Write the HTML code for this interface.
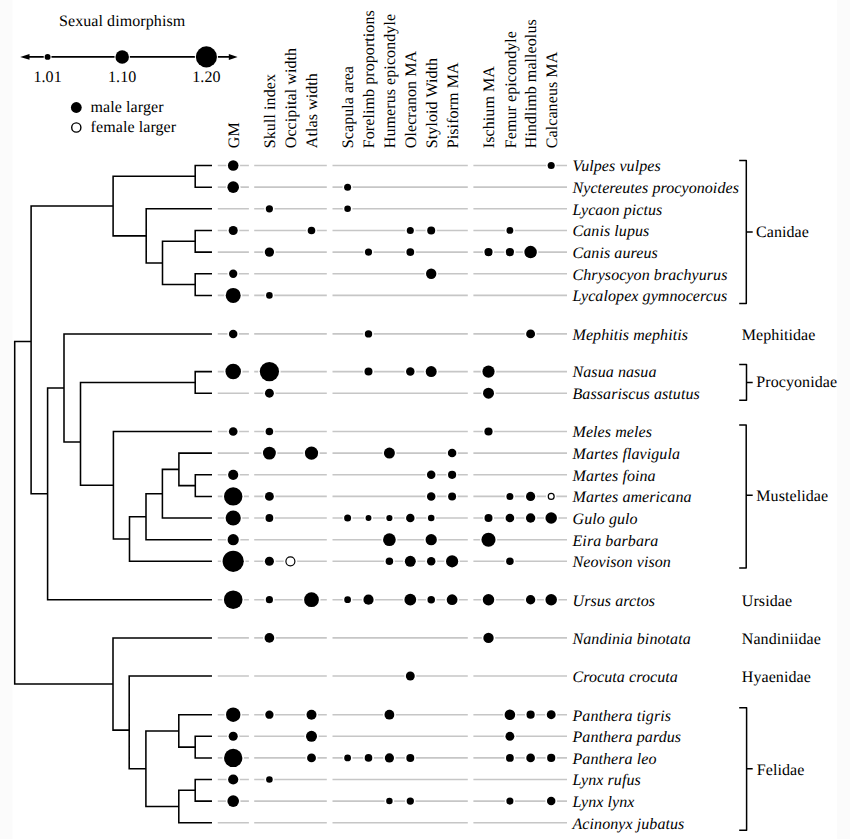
<!DOCTYPE html>
<html><head><meta charset="utf-8"><style>
html,body{margin:0;padding:0;background:#fff;}
body{width:850px;height:839px;overflow:hidden;}
svg{display:block;}
text{font-family:"Liberation Serif",serif;font-size:16px;fill:#000;letter-spacing:0.08px;text-rendering:geometricPrecision;}
.i{font-style:italic;}
</style></head><body>
<svg width="850" height="839" viewBox="0 0 850 839">
<rect x="0" y="0" width="850" height="839" fill="#fff"/>
<rect x="0" y="0" width="12.4" height="839" fill="#fbfbfb"/>
<rect x="837" y="0" width="13" height="839" fill="#fbfbfb"/>
<text x="59" y="26">Sexual dimorphism</text>
<line x1="28" y1="56.9" x2="229" y2="56.9" stroke="#000" stroke-width="1.7"/>
<path d="M20.2 56.9 L29.5 54 L29.5 59.8 Z" fill="#000"/>
<path d="M237.6 57 L228.8 54.1 L228.8 59.9 Z" fill="#000"/>
<circle cx="47.6" cy="56.9" r="3.95" fill="#fff"/><circle cx="47.6" cy="56.9" r="2.95" fill="#000"/>
<circle cx="122.2" cy="56.9" r="7.75" fill="#fff"/><circle cx="122.2" cy="56.9" r="6.75" fill="#000"/>
<circle cx="206.4" cy="56.9" r="11.55" fill="#fff"/><circle cx="206.4" cy="56.9" r="10.55" fill="#000"/>
<text x="47.6" y="82" text-anchor="middle">1.01</text><text x="122.2" y="82" text-anchor="middle">1.10</text><text x="206.4" y="82" text-anchor="middle">1.20</text>
<circle cx="76.3" cy="107.5" r="5.4" fill="#000"/>
<circle cx="76.3" cy="127.5" r="4.6" fill="#fff" stroke="#000" stroke-width="1.4"/>
<text x="90.6" y="112.0">male larger</text>
<text x="90.6" y="132.0">female larger</text>
<text transform="translate(238.8,148.2) rotate(-90)">GM</text>
<text transform="translate(275.0,148.2) rotate(-90)">Skull index</text>
<text transform="translate(296.0,148.2) rotate(-90)">Occipital width</text>
<text transform="translate(317.1,148.2) rotate(-90)">Atlas width</text>
<text transform="translate(353.2,148.2) rotate(-90)">Scapula area</text>
<text transform="translate(374.1,148.2) rotate(-90)">Forelimb proportions</text>
<text transform="translate(395.0,148.2) rotate(-90)">Humerus epicondyle</text>
<text transform="translate(415.9,148.2) rotate(-90)">Olecranon MA</text>
<text transform="translate(436.8,148.2) rotate(-90)">Styloid Width</text>
<text transform="translate(457.7,148.2) rotate(-90)">Pisiform MA</text>
<text transform="translate(494.1,148.2) rotate(-90)">Ischium MA</text>
<text transform="translate(515.5,148.2) rotate(-90)">Femur epicondyle</text>
<text transform="translate(536.2,148.2) rotate(-90)">Hindlimb malleolus</text>
<text transform="translate(556.8,148.2) rotate(-90)">Calcaneus MA</text>
<path d="M195.2 165.50V187.15 M195.2 230.45V252.10 M195.2 273.75V295.40 M162.5 241.27V284.57 M146.2 208.80V262.92 M113.1 176.32V235.86 M195.2 371.60V393.20 M195.3 474.80V496.40 M178.9 453.10V485.60 M162.4 469.35V518.00 M146.0 493.68V539.70 M129.5 516.69V561.30 M113.4 431.50V538.99 M80.5 382.40V485.25 M64.0 333.90V441.90 M47.6 387.90V599.70 M31.1 206.09V493.80 M195.2 736.30V757.90 M178.8 714.70V747.10 M195.2 779.50V801.10 M178.8 790.30V822.70 M145.9 730.90V806.50 M129.2 676.00V768.70 M113.0 637.90V730.10 M14.7 341.50V684.00 M195.2 165.50H211.2 M195.2 187.15H211.2 M146.2 208.80H211.2 M195.2 230.45H211.2 M195.2 252.10H211.2 M195.2 273.75H211.2 M195.2 295.40H211.2 M64.0 333.90H211.2 M195.2 371.60H211.2 M195.2 393.20H211.2 M113.4 431.50H211.2 M178.9 453.10H211.2 M195.3 474.80H211.2 M195.3 496.40H211.2 M162.4 518.00H211.2 M146.0 539.70H211.2 M129.5 561.30H211.2 M47.6 599.70H211.2 M113.0 637.90H211.2 M129.2 676.00H211.2 M178.8 714.70H211.2 M195.2 736.30H211.2 M195.2 757.90H211.2 M195.2 779.50H211.2 M195.2 801.10H211.2 M178.8 822.70H211.2 M113.1 176.32H195.2 M113.1 235.86H146.2 M162.5 241.27H195.2 M162.5 284.57H195.2 M146.2 262.92H162.5 M31.1 206.09H113.1 M31.1 493.80H47.6 M14.7 341.50H31.1 M47.6 387.90H64.0 M64.0 441.90H80.5 M80.5 382.40H195.2 M80.5 485.25H113.4 M113.4 538.99H129.5 M129.5 516.69H146.0 M146.0 493.68H162.4 M162.4 469.35H178.9 M178.9 485.60H195.3 M14.7 684.00H113.0 M113.0 730.10H129.2 M129.2 768.70H145.9 M145.9 730.90H178.8 M145.9 806.50H178.8 M178.8 747.10H195.2 M178.8 790.30H195.2" stroke="#000" stroke-width="1.55" fill="none" stroke-linecap="square" stroke-linecap="butt"/>
<path d="M217.8 165.50H248.9 M254.2 165.50H326.8 M332.5 165.50H467.8 M473.4 165.50H567.0 M217.8 187.15H248.9 M254.2 187.15H326.8 M332.5 187.15H467.8 M473.4 187.15H567.0 M217.8 208.80H248.9 M254.2 208.80H326.8 M332.5 208.80H467.8 M473.4 208.80H567.0 M217.8 230.45H248.9 M254.2 230.45H326.8 M332.5 230.45H467.8 M473.4 230.45H567.0 M217.8 252.10H248.9 M254.2 252.10H326.8 M332.5 252.10H467.8 M473.4 252.10H567.0 M217.8 273.75H248.9 M254.2 273.75H326.8 M332.5 273.75H467.8 M473.4 273.75H567.0 M217.8 295.40H248.9 M254.2 295.40H326.8 M332.5 295.40H467.8 M473.4 295.40H567.0 M217.8 333.90H248.9 M254.2 333.90H326.8 M332.5 333.90H467.8 M473.4 333.90H567.0 M217.8 371.60H248.9 M254.2 371.60H326.8 M332.5 371.60H467.8 M473.4 371.60H567.0 M217.8 393.20H248.9 M254.2 393.20H326.8 M332.5 393.20H467.8 M473.4 393.20H567.0 M217.8 431.50H248.9 M254.2 431.50H326.8 M332.5 431.50H467.8 M473.4 431.50H567.0 M217.8 453.10H248.9 M254.2 453.10H326.8 M332.5 453.10H467.8 M473.4 453.10H567.0 M217.8 474.80H248.9 M254.2 474.80H326.8 M332.5 474.80H467.8 M473.4 474.80H567.0 M217.8 496.40H248.9 M254.2 496.40H326.8 M332.5 496.40H467.8 M473.4 496.40H567.0 M217.8 518.00H248.9 M254.2 518.00H326.8 M332.5 518.00H467.8 M473.4 518.00H567.0 M217.8 539.70H248.9 M254.2 539.70H326.8 M332.5 539.70H467.8 M473.4 539.70H567.0 M217.8 561.30H248.9 M254.2 561.30H326.8 M332.5 561.30H467.8 M473.4 561.30H567.0 M217.8 599.70H248.9 M254.2 599.70H326.8 M332.5 599.70H467.8 M473.4 599.70H567.0 M217.8 637.90H248.9 M254.2 637.90H326.8 M332.5 637.90H467.8 M473.4 637.90H567.0 M217.8 676.00H248.9 M254.2 676.00H326.8 M332.5 676.00H467.8 M473.4 676.00H567.0 M217.8 714.70H248.9 M254.2 714.70H326.8 M332.5 714.70H467.8 M473.4 714.70H567.0 M217.8 736.30H248.9 M254.2 736.30H326.8 M332.5 736.30H467.8 M473.4 736.30H567.0 M217.8 757.90H248.9 M254.2 757.90H326.8 M332.5 757.90H467.8 M473.4 757.90H567.0 M217.8 779.50H248.9 M254.2 779.50H326.8 M332.5 779.50H467.8 M473.4 779.50H567.0 M217.8 801.10H248.9 M254.2 801.10H326.8 M332.5 801.10H467.8 M473.4 801.10H567.0 M217.8 822.70H248.9 M254.2 822.70H326.8 M332.5 822.70H467.8 M473.4 822.70H567.0" stroke="#c6c6c6" stroke-width="1.6" fill="none"/>
<circle cx="233.2" cy="165.50" r="6.90" fill="#fff"/><circle cx="233.2" cy="165.50" r="5.30" fill="#000"/>
<circle cx="551.2" cy="165.50" r="5.15" fill="#fff"/><circle cx="551.2" cy="165.50" r="3.55" fill="#000"/>
<circle cx="233.2" cy="187.15" r="7.40" fill="#fff"/><circle cx="233.2" cy="187.15" r="5.80" fill="#000"/>
<circle cx="347.6" cy="187.15" r="5.10" fill="#fff"/><circle cx="347.6" cy="187.15" r="3.50" fill="#000"/>
<circle cx="269.4" cy="208.80" r="5.20" fill="#fff"/><circle cx="269.4" cy="208.80" r="3.60" fill="#000"/>
<circle cx="347.6" cy="208.80" r="4.90" fill="#fff"/><circle cx="347.6" cy="208.80" r="3.30" fill="#000"/>
<circle cx="233.2" cy="230.45" r="6.15" fill="#fff"/><circle cx="233.2" cy="230.45" r="4.55" fill="#000"/>
<circle cx="311.5" cy="230.45" r="5.40" fill="#fff"/><circle cx="311.5" cy="230.45" r="3.80" fill="#000"/>
<circle cx="410.3" cy="230.45" r="5.15" fill="#fff"/><circle cx="410.3" cy="230.45" r="3.55" fill="#000"/>
<circle cx="431.2" cy="230.45" r="5.60" fill="#fff"/><circle cx="431.2" cy="230.45" r="4.00" fill="#000"/>
<circle cx="509.9" cy="230.45" r="5.00" fill="#fff"/><circle cx="509.9" cy="230.45" r="3.40" fill="#000"/>
<circle cx="269.4" cy="252.10" r="6.25" fill="#fff"/><circle cx="269.4" cy="252.10" r="4.65" fill="#000"/>
<circle cx="368.5" cy="252.10" r="5.20" fill="#fff"/><circle cx="368.5" cy="252.10" r="3.60" fill="#000"/>
<circle cx="410.3" cy="252.10" r="5.50" fill="#fff"/><circle cx="410.3" cy="252.10" r="3.90" fill="#000"/>
<circle cx="488.5" cy="252.10" r="5.70" fill="#fff"/><circle cx="488.5" cy="252.10" r="4.10" fill="#000"/>
<circle cx="509.9" cy="252.10" r="5.70" fill="#fff"/><circle cx="509.9" cy="252.10" r="4.10" fill="#000"/>
<circle cx="530.6" cy="252.10" r="7.85" fill="#fff"/><circle cx="530.6" cy="252.10" r="6.25" fill="#000"/>
<circle cx="233.2" cy="273.75" r="5.75" fill="#fff"/><circle cx="233.2" cy="273.75" r="4.15" fill="#000"/>
<circle cx="431.2" cy="273.75" r="6.80" fill="#fff"/><circle cx="431.2" cy="273.75" r="5.20" fill="#000"/>
<circle cx="233.2" cy="295.40" r="9.10" fill="#fff"/><circle cx="233.2" cy="295.40" r="7.50" fill="#000"/>
<circle cx="269.4" cy="295.40" r="4.90" fill="#fff"/><circle cx="269.4" cy="295.40" r="3.30" fill="#000"/>
<circle cx="233.2" cy="333.90" r="5.85" fill="#fff"/><circle cx="233.2" cy="333.90" r="4.25" fill="#000"/>
<circle cx="368.5" cy="333.90" r="5.30" fill="#fff"/><circle cx="368.5" cy="333.90" r="3.70" fill="#000"/>
<circle cx="530.6" cy="333.90" r="6.05" fill="#fff"/><circle cx="530.6" cy="333.90" r="4.45" fill="#000"/>
<circle cx="233.2" cy="371.60" r="9.35" fill="#fff"/><circle cx="233.2" cy="371.60" r="7.75" fill="#000"/>
<circle cx="269.4" cy="371.60" r="11.25" fill="#fff"/><circle cx="269.4" cy="371.60" r="9.65" fill="#000"/>
<circle cx="368.5" cy="371.60" r="5.60" fill="#fff"/><circle cx="368.5" cy="371.60" r="4.00" fill="#000"/>
<circle cx="410.3" cy="371.60" r="5.85" fill="#fff"/><circle cx="410.3" cy="371.60" r="4.25" fill="#000"/>
<circle cx="431.2" cy="371.60" r="7.10" fill="#fff"/><circle cx="431.2" cy="371.60" r="5.50" fill="#000"/>
<circle cx="488.5" cy="371.60" r="7.70" fill="#fff"/><circle cx="488.5" cy="371.60" r="6.10" fill="#000"/>
<circle cx="269.4" cy="393.20" r="6.05" fill="#fff"/><circle cx="269.4" cy="393.20" r="4.45" fill="#000"/>
<circle cx="488.5" cy="393.20" r="7.10" fill="#fff"/><circle cx="488.5" cy="393.20" r="5.50" fill="#000"/>
<circle cx="233.2" cy="431.50" r="5.95" fill="#fff"/><circle cx="233.2" cy="431.50" r="4.35" fill="#000"/>
<circle cx="269.4" cy="431.50" r="5.40" fill="#fff"/><circle cx="269.4" cy="431.50" r="3.80" fill="#000"/>
<circle cx="488.5" cy="431.50" r="5.70" fill="#fff"/><circle cx="488.5" cy="431.50" r="4.10" fill="#000"/>
<circle cx="269.4" cy="453.10" r="8.05" fill="#fff"/><circle cx="269.4" cy="453.10" r="6.45" fill="#000"/>
<circle cx="311.5" cy="453.10" r="8.25" fill="#fff"/><circle cx="311.5" cy="453.10" r="6.65" fill="#000"/>
<circle cx="389.4" cy="453.10" r="7.10" fill="#fff"/><circle cx="389.4" cy="453.10" r="5.50" fill="#000"/>
<circle cx="452.1" cy="453.10" r="5.85" fill="#fff"/><circle cx="452.1" cy="453.10" r="4.25" fill="#000"/>
<circle cx="233.2" cy="474.80" r="6.70" fill="#fff"/><circle cx="233.2" cy="474.80" r="5.10" fill="#000"/>
<circle cx="431.2" cy="474.80" r="5.85" fill="#fff"/><circle cx="431.2" cy="474.80" r="4.25" fill="#000"/>
<circle cx="452.1" cy="474.80" r="5.70" fill="#fff"/><circle cx="452.1" cy="474.80" r="4.10" fill="#000"/>
<circle cx="233.2" cy="496.40" r="10.80" fill="#fff"/><circle cx="233.2" cy="496.40" r="9.20" fill="#000"/>
<circle cx="269.4" cy="496.40" r="6.05" fill="#fff"/><circle cx="269.4" cy="496.40" r="4.45" fill="#000"/>
<circle cx="431.2" cy="496.40" r="5.85" fill="#fff"/><circle cx="431.2" cy="496.40" r="4.25" fill="#000"/>
<circle cx="452.1" cy="496.40" r="5.60" fill="#fff"/><circle cx="452.1" cy="496.40" r="4.00" fill="#000"/>
<circle cx="509.9" cy="496.40" r="5.10" fill="#fff"/><circle cx="509.9" cy="496.40" r="3.50" fill="#000"/>
<circle cx="530.6" cy="496.40" r="6.20" fill="#fff"/><circle cx="530.6" cy="496.40" r="4.60" fill="#000"/>
<circle cx="551.2" cy="496.40" r="5.15" fill="#fff"/><circle cx="551.2" cy="496.40" r="2.95" fill="#fff" stroke="#000" stroke-width="1.2"/>
<circle cx="233.2" cy="518.00" r="9.20" fill="#fff"/><circle cx="233.2" cy="518.00" r="7.60" fill="#000"/>
<circle cx="269.4" cy="518.00" r="5.50" fill="#fff"/><circle cx="269.4" cy="518.00" r="3.90" fill="#000"/>
<circle cx="347.6" cy="518.00" r="5.10" fill="#fff"/><circle cx="347.6" cy="518.00" r="3.50" fill="#000"/>
<circle cx="368.5" cy="518.00" r="4.55" fill="#fff"/><circle cx="368.5" cy="518.00" r="2.95" fill="#000"/>
<circle cx="389.4" cy="518.00" r="4.70" fill="#fff"/><circle cx="389.4" cy="518.00" r="3.10" fill="#000"/>
<circle cx="410.3" cy="518.00" r="5.85" fill="#fff"/><circle cx="410.3" cy="518.00" r="4.25" fill="#000"/>
<circle cx="431.2" cy="518.00" r="4.90" fill="#fff"/><circle cx="431.2" cy="518.00" r="3.30" fill="#000"/>
<circle cx="488.5" cy="518.00" r="5.60" fill="#fff"/><circle cx="488.5" cy="518.00" r="4.00" fill="#000"/>
<circle cx="509.9" cy="518.00" r="5.95" fill="#fff"/><circle cx="509.9" cy="518.00" r="4.35" fill="#000"/>
<circle cx="530.6" cy="518.00" r="6.30" fill="#fff"/><circle cx="530.6" cy="518.00" r="4.70" fill="#000"/>
<circle cx="551.2" cy="518.00" r="7.35" fill="#fff"/><circle cx="551.2" cy="518.00" r="5.75" fill="#000"/>
<circle cx="233.2" cy="539.70" r="7.20" fill="#fff"/><circle cx="233.2" cy="539.70" r="5.60" fill="#000"/>
<circle cx="389.4" cy="539.70" r="7.95" fill="#fff"/><circle cx="389.4" cy="539.70" r="6.35" fill="#000"/>
<circle cx="431.2" cy="539.70" r="7.25" fill="#fff"/><circle cx="431.2" cy="539.70" r="5.65" fill="#000"/>
<circle cx="488.5" cy="539.70" r="8.65" fill="#fff"/><circle cx="488.5" cy="539.70" r="7.05" fill="#000"/>
<circle cx="233.2" cy="561.30" r="12.20" fill="#fff"/><circle cx="233.2" cy="561.30" r="10.60" fill="#000"/>
<circle cx="269.4" cy="561.30" r="6.15" fill="#fff"/><circle cx="269.4" cy="561.30" r="4.55" fill="#000"/>
<circle cx="290.4" cy="561.30" r="6.70" fill="#fff"/><circle cx="290.4" cy="561.30" r="4.50" fill="#fff" stroke="#000" stroke-width="1.2"/>
<circle cx="389.4" cy="561.30" r="5.35" fill="#fff"/><circle cx="389.4" cy="561.30" r="3.75" fill="#000"/>
<circle cx="410.3" cy="561.30" r="7.10" fill="#fff"/><circle cx="410.3" cy="561.30" r="5.50" fill="#000"/>
<circle cx="431.2" cy="561.30" r="5.85" fill="#fff"/><circle cx="431.2" cy="561.30" r="4.25" fill="#000"/>
<circle cx="452.1" cy="561.30" r="7.70" fill="#fff"/><circle cx="452.1" cy="561.30" r="6.10" fill="#000"/>
<circle cx="509.9" cy="561.30" r="5.35" fill="#fff"/><circle cx="509.9" cy="561.30" r="3.75" fill="#000"/>
<circle cx="233.2" cy="599.70" r="10.90" fill="#fff"/><circle cx="233.2" cy="599.70" r="9.30" fill="#000"/>
<circle cx="269.4" cy="599.70" r="5.20" fill="#fff"/><circle cx="269.4" cy="599.70" r="3.60" fill="#000"/>
<circle cx="311.5" cy="599.70" r="9.00" fill="#fff"/><circle cx="311.5" cy="599.70" r="7.40" fill="#000"/>
<circle cx="347.6" cy="599.70" r="5.00" fill="#fff"/><circle cx="347.6" cy="599.70" r="3.40" fill="#000"/>
<circle cx="368.5" cy="599.70" r="6.70" fill="#fff"/><circle cx="368.5" cy="599.70" r="5.10" fill="#000"/>
<circle cx="410.3" cy="599.70" r="7.50" fill="#fff"/><circle cx="410.3" cy="599.70" r="5.90" fill="#000"/>
<circle cx="431.2" cy="599.70" r="5.35" fill="#fff"/><circle cx="431.2" cy="599.70" r="3.75" fill="#000"/>
<circle cx="452.1" cy="599.70" r="7.00" fill="#fff"/><circle cx="452.1" cy="599.70" r="5.40" fill="#000"/>
<circle cx="488.5" cy="599.70" r="7.35" fill="#fff"/><circle cx="488.5" cy="599.70" r="5.75" fill="#000"/>
<circle cx="530.6" cy="599.70" r="6.30" fill="#fff"/><circle cx="530.6" cy="599.70" r="4.70" fill="#000"/>
<circle cx="551.2" cy="599.70" r="7.35" fill="#fff"/><circle cx="551.2" cy="599.70" r="5.75" fill="#000"/>
<circle cx="269.4" cy="637.90" r="6.45" fill="#fff"/><circle cx="269.4" cy="637.90" r="4.85" fill="#000"/>
<circle cx="488.5" cy="637.90" r="6.80" fill="#fff"/><circle cx="488.5" cy="637.90" r="5.20" fill="#000"/>
<circle cx="410.3" cy="676.00" r="6.05" fill="#fff"/><circle cx="410.3" cy="676.00" r="4.45" fill="#000"/>
<circle cx="233.2" cy="714.70" r="8.80" fill="#fff"/><circle cx="233.2" cy="714.70" r="7.20" fill="#000"/>
<circle cx="269.4" cy="714.70" r="5.75" fill="#fff"/><circle cx="269.4" cy="714.70" r="4.15" fill="#000"/>
<circle cx="311.5" cy="714.70" r="6.60" fill="#fff"/><circle cx="311.5" cy="714.70" r="5.00" fill="#000"/>
<circle cx="389.4" cy="714.70" r="6.50" fill="#fff"/><circle cx="389.4" cy="714.70" r="4.90" fill="#000"/>
<circle cx="509.9" cy="714.70" r="6.90" fill="#fff"/><circle cx="509.9" cy="714.70" r="5.30" fill="#000"/>
<circle cx="530.6" cy="714.70" r="5.70" fill="#fff"/><circle cx="530.6" cy="714.70" r="4.10" fill="#000"/>
<circle cx="551.2" cy="714.70" r="6.05" fill="#fff"/><circle cx="551.2" cy="714.70" r="4.45" fill="#000"/>
<circle cx="233.2" cy="736.30" r="6.15" fill="#fff"/><circle cx="233.2" cy="736.30" r="4.55" fill="#000"/>
<circle cx="311.5" cy="736.30" r="7.10" fill="#fff"/><circle cx="311.5" cy="736.30" r="5.50" fill="#000"/>
<circle cx="509.9" cy="736.30" r="6.05" fill="#fff"/><circle cx="509.9" cy="736.30" r="4.45" fill="#000"/>
<circle cx="233.2" cy="757.90" r="10.80" fill="#fff"/><circle cx="233.2" cy="757.90" r="9.20" fill="#000"/>
<circle cx="311.5" cy="757.90" r="6.05" fill="#fff"/><circle cx="311.5" cy="757.90" r="4.45" fill="#000"/>
<circle cx="347.6" cy="757.90" r="5.00" fill="#fff"/><circle cx="347.6" cy="757.90" r="3.40" fill="#000"/>
<circle cx="368.5" cy="757.90" r="5.40" fill="#fff"/><circle cx="368.5" cy="757.90" r="3.80" fill="#000"/>
<circle cx="389.4" cy="757.90" r="6.20" fill="#fff"/><circle cx="389.4" cy="757.90" r="4.60" fill="#000"/>
<circle cx="410.3" cy="757.90" r="5.60" fill="#fff"/><circle cx="410.3" cy="757.90" r="4.00" fill="#000"/>
<circle cx="509.9" cy="757.90" r="5.50" fill="#fff"/><circle cx="509.9" cy="757.90" r="3.90" fill="#000"/>
<circle cx="530.6" cy="757.90" r="5.95" fill="#fff"/><circle cx="530.6" cy="757.90" r="4.35" fill="#000"/>
<circle cx="551.2" cy="757.90" r="5.70" fill="#fff"/><circle cx="551.2" cy="757.90" r="4.10" fill="#000"/>
<circle cx="233.2" cy="779.50" r="6.70" fill="#fff"/><circle cx="233.2" cy="779.50" r="5.10" fill="#000"/>
<circle cx="269.4" cy="779.50" r="4.90" fill="#fff"/><circle cx="269.4" cy="779.50" r="3.30" fill="#000"/>
<circle cx="233.2" cy="801.10" r="7.40" fill="#fff"/><circle cx="233.2" cy="801.10" r="5.80" fill="#000"/>
<circle cx="389.4" cy="801.10" r="4.85" fill="#fff"/><circle cx="389.4" cy="801.10" r="3.25" fill="#000"/>
<circle cx="410.3" cy="801.10" r="5.25" fill="#fff"/><circle cx="410.3" cy="801.10" r="3.65" fill="#000"/>
<circle cx="509.9" cy="801.10" r="5.15" fill="#fff"/><circle cx="509.9" cy="801.10" r="3.55" fill="#000"/>
<circle cx="551.2" cy="801.10" r="5.85" fill="#fff"/><circle cx="551.2" cy="801.10" r="4.25" fill="#000"/>
<text class="i" x="572.5" y="171.30">Vulpes vulpes</text>
<text class="i" x="572.5" y="192.95">Nyctereutes procyonoides</text>
<text class="i" x="572.5" y="214.60">Lycaon pictus</text>
<text class="i" x="572.5" y="236.25">Canis lupus</text>
<text class="i" x="572.5" y="257.90">Canis aureus</text>
<text class="i" x="572.5" y="279.55">Chrysocyon brachyurus</text>
<text class="i" x="572.5" y="301.20">Lycalopex gymnocercus</text>
<text class="i" x="572.5" y="339.70">Mephitis mephitis</text>
<text class="i" x="572.5" y="377.40">Nasua nasua</text>
<text class="i" x="572.5" y="399.00">Bassariscus astutus</text>
<text class="i" x="572.5" y="437.30">Meles meles</text>
<text class="i" x="572.5" y="458.90">Martes flavigula</text>
<text class="i" x="572.5" y="480.60">Martes foina</text>
<text class="i" x="572.5" y="502.20">Martes americana</text>
<text class="i" x="572.5" y="523.80">Gulo gulo</text>
<text class="i" x="572.5" y="545.50">Eira barbara</text>
<text class="i" x="572.5" y="567.10">Neovison vison</text>
<text class="i" x="572.5" y="605.50">Ursus arctos</text>
<text class="i" x="572.5" y="643.70">Nandinia binotata</text>
<text class="i" x="572.5" y="681.80">Crocuta crocuta</text>
<text class="i" x="572.5" y="720.50">Panthera tigris</text>
<text class="i" x="572.5" y="742.10">Panthera pardus</text>
<text class="i" x="572.5" y="763.70">Panthera leo</text>
<text class="i" x="572.5" y="785.30">Lynx rufus</text>
<text class="i" x="572.5" y="806.90">Lynx lynx</text>
<text class="i" x="572.5" y="828.50">Acinonyx jubatus</text>
<path d="M739.2 160.4H746.3V303.6H739.2 M746.3 232H752.7" stroke="#000" stroke-width="1.5" fill="none" stroke-linejoin="round"/>
<text x="756" y="237.4">Canidae</text>
<text x="741.8" y="339.6">Mephitidae</text>
<path d="M739.2 364.6H746.5V400.2H739.2 M746.5 382.5H752.7" stroke="#000" stroke-width="1.5" fill="none" stroke-linejoin="round"/>
<text x="756.3" y="386.6">Procyonidae</text>
<path d="M739.2 424.9H746.2V568H739.2 M746.2 495.3H752.7" stroke="#000" stroke-width="1.5" fill="none" stroke-linejoin="round"/>
<text x="756.3" y="501.3">Mustelidae</text>
<text x="741.8" y="605.5">Ursidae</text>
<text x="741.8" y="643.7">Nandiniidae</text>
<text x="741.8" y="682.2">Hyaenidae</text>
<path d="M739.2 707.8H746.6V830.3H739.2 M746.6 768.7H752.7" stroke="#000" stroke-width="1.5" fill="none" stroke-linejoin="round"/>
<text x="756.8" y="774.7">Felidae</text>
</svg>
</body></html>
